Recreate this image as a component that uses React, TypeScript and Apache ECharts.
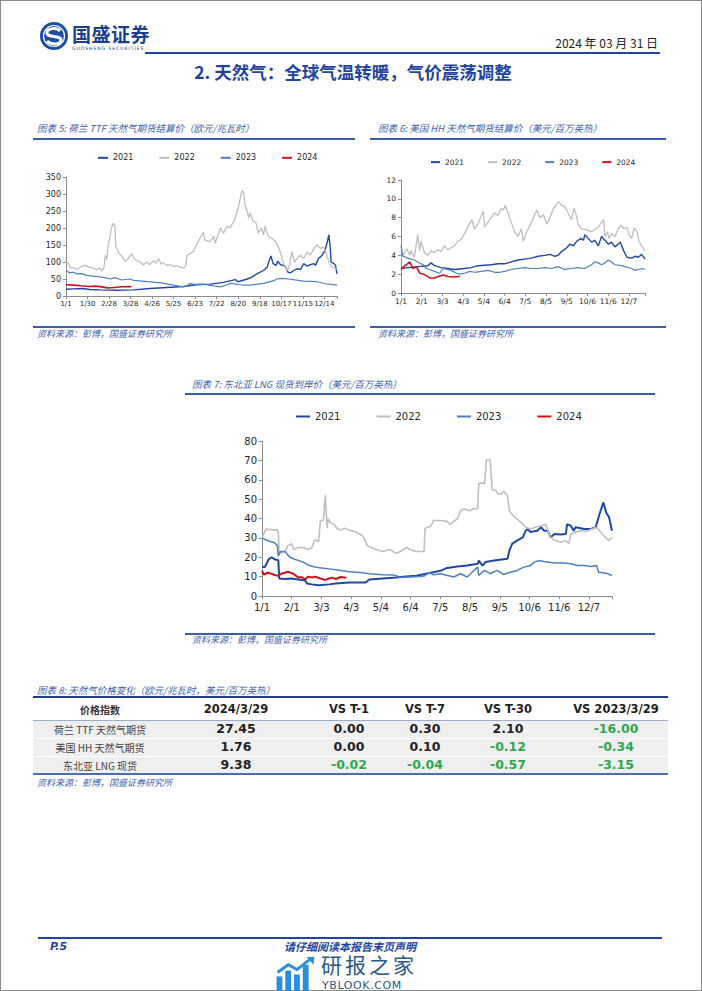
import React, { useEffect, useRef } from "react";
import * as echarts from "echarts";

const FONT = "'DejaVu Sans', Verdana, sans-serif";
const CJK = "'Noto Sans CJK SC', 'DejaVu Sans', sans-serif";
const LATIN_FIRST = "'DejaVu Sans', 'Noto Sans CJK SC', sans-serif";

const years = ["2021", "2022", "2023", "2024"];
const yearColors = ["#1f48a0", "#bfbfbf", "#4f80c2", "#d0111b"];

const ttfTicks = ["1/1", "1/30", "2/28", "3/28", "4/26", "5/25", "6/23", "7/22", "8/20", "9/18", "10/17", "11/15", "12/14"];
const monthTicks = ["1/1", "2/1", "3/3", "4/3", "5/4", "6/4", "7/5", "8/5", "9/5", "10/6", "11/6", "12/7"];

type Pt = [number, number];

// 荷兰 TTF (欧元/兆瓦时) — [day of year, value]
const ttf2021: Pt[] = [[0,20],[10,21],[23,22],[32,19],[46,18],[68,17],[91,18],[113,22],[136,25],[158,28],[176,33],[194,35],[212,40],[228,48],[232,42],[244,50],[250,55],[257,65],[266,75],[271,85],[273,100],[276,118],[279,95],[283,90],[285,102],[289,92],[293,90],[295,88],[299,70],[302,68],[307,75],[311,80],[316,78],[320,95],[325,88],[329,92],[334,95],[336,90],[340,110],[345,120],[349,135],[352,160],[354,180],[356,140],[357,100],[361,95],[363,90],[365,65]];
const ttf2022: Pt[] = [[0,99],[3,97],[6,82],[10,84],[14,77],[21,87],[26,90],[29,87],[32,84],[37,82],[41,77],[46,82],[48,74],[51,82],[53,120],[55,107],[57,152],[59,172],[62,207],[64,214],[66,202],[67,147],[71,127],[75,117],[80,102],[83,107],[86,117],[89,124],[91,112],[95,104],[100,100],[104,92],[109,100],[113,92],[118,104],[121,97],[125,110],[128,94],[131,97],[136,90],[140,92],[145,87],[149,89],[154,84],[158,82],[161,87],[163,120],[167,124],[172,132],[176,150],[181,172],[185,187],[187,165],[194,160],[199,175],[201,155],[208,200],[212,185],[217,205],[221,200],[226,220],[228,230],[232,260],[236,300],[237,310],[239,305],[241,270],[244,250],[246,230],[248,245],[252,220],[256,215],[259,185],[263,200],[266,180],[268,205],[270,190],[273,175],[277,170],[282,160],[286,145],[290,120],[293,95],[298,75],[301,90],[304,130],[308,100],[311,110],[316,120],[320,110],[325,130],[329,120],[334,140],[338,150],[343,140],[347,145],[351,120],[356,90],[361,82],[365,80]];
const ttf2023: Pt[] = [[0,75],[5,68],[10,70],[15,65],[21,66],[29,60],[40,58],[50,55],[60,50],[66,54],[75,47],[86,50],[91,46],[110,42],[130,38],[145,32],[158,27],[163,30],[167,37],[172,34],[185,35],[199,30],[208,27],[217,33],[221,37],[235,33],[248,32],[266,37],[280,45],[284,50],[290,52],[300,50],[320,44],[338,42],[350,36],[365,32]];
const ttf2024: Pt[] = [[0,33],[10,32],[20,30],[31,28],[40,29],[50,26],[56,24],[65,25],[75,27],[88,27.45]];

// 美国 HH (美元/百万英热)
const hh2021: Pt[] = [[0,2.6],[10,2.7],[25,2.8],[40,2.9],[45,3.2],[50,2.9],[60,2.7],[70,2.6],[80,2.5],[95,2.6],[105,2.7],[115,2.9],[125,2.95],[135,3.0],[145,3.1],[155,3.1],[165,3.3],[175,3.5],[185,3.6],[195,3.7],[205,3.9],[215,4.0],[223,4.1],[230,3.9],[235,4.0],[240,4.4],[248,4.8],[253,5.2],[258,5.0],[263,5.5],[269,5.8],[273,5.6],[275,6.2],[280,5.8],[285,5.4],[290,5.6],[295,5.0],[300,6.0],[305,5.6],[310,5.2],[315,5.4],[320,4.9],[325,5.2],[328,5.4],[333,4.5],[338,3.8],[345,3.7],[350,3.9],[355,3.8],[360,4.1],[365,3.6]];
const hh2022: Pt[] = [[0,3.8],[3,4.0],[9,4.7],[13,4.0],[15,4.5],[20,3.8],[25,6.2],[28,4.5],[30,5.5],[35,4.3],[40,4.0],[45,4.5],[50,4.3],[55,4.6],[60,4.4],[65,5.0],[70,4.6],[75,4.8],[80,5.0],[85,5.5],[90,5.7],[95,6.3],[100,7.0],[106,7.8],[110,6.8],[115,7.3],[123,8.7],[125,7.0],[130,7.5],[135,8.0],[140,8.5],[145,8.2],[150,9.0],[153,8.8],[156,9.3],[160,8.5],[165,7.5],[170,6.5],[175,6.0],[180,6.8],[183,5.5],[188,6.5],[195,7.5],[203,8.8],[208,8.0],[213,8.3],[218,7.3],[223,8.0],[228,9.0],[233,9.4],[236,9.7],[240,9.3],[245,9.2],[250,8.5],[255,7.8],[259,9.0],[263,8.0],[265,7.3],[270,6.8],[278,6.7],[285,6.5],[295,7.0],[300,7.5],[303,7.8],[305,6.0],[309,6.5],[311,5.8],[315,6.3],[320,6.0],[325,6.8],[329,7.2],[334,6.8],[338,7.0],[341,6.2],[345,5.8],[349,6.9],[353,6.5],[356,5.5],[360,5.0],[365,4.5]];
const hh2023: Pt[] = [[0,5.0],[3,3.9],[10,3.7],[20,3.5],[25,3.3],[33,3.0],[38,2.6],[43,2.5],[50,2.3],[58,2.1],[63,2.6],[70,2.5],[78,2.3],[83,2.1],[88,2.0],[95,2.1],[103,2.3],[110,2.2],[120,2.3],[130,2.4],[140,2.2],[148,2.2],[155,2.3],[165,2.5],[175,2.6],[185,2.7],[195,2.6],[205,2.6],[215,2.7],[225,2.6],[235,2.8],[245,2.5],[255,2.6],[265,2.7],[275,2.6],[285,3.0],[290,3.3],[295,3.2],[300,3.0],[305,3.2],[310,3.5],[315,3.3],[320,3.0],[330,2.9],[335,2.8],[345,2.6],[350,2.4],[355,2.5],[360,2.6],[365,2.5]];
const hh2024: Pt[] = [[0,2.5],[4,2.8],[8,3.0],[13,3.3],[18,2.6],[23,2.8],[28,2.1],[34,2.0],[43,1.6],[50,1.6],[58,1.8],[63,1.9],[70,1.75],[78,1.7],[88,1.76]];

// 东北亚 LNG (美元/百万英热)
const lng2021: Pt[] = [[0,15],[3,15],[7,19],[10,20],[13,19],[17,18.5],[18,9],[24,8.8],[31,9],[38,8.5],[45,8],[47,6.5],[52,6],[59,5.5],[70,6],[77,6.5],[91,7],[108,7],[112,8.5],[126,9],[140,9.5],[147,10],[161,10.5],[176,12],[186,13],[193,14.5],[204,15.2],[214,15.7],[225,16.6],[226,18.3],[230,15.7],[233,17.5],[242,18.3],[256,19.2],[258,23.5],[261,27],[266,28.6],[272,30.3],[275,33.7],[277,34.6],[280,33],[287,33.7],[291,35.5],[294,33.7],[298,33.7],[301,30.3],[305,32],[311,31.7],[317,32],[318,37],[322,36.3],[325,33.7],[327,35.5],[336,34.6],[343,34.6],[348,35.5],[352,42.3],[356,48.3],[359,43],[362,40.6],[365,33.7]];
const lng2022: Pt[] = [[0,30],[4,34.5],[16,34],[17,33],[18,22],[24,23],[27,26],[31,27],[33,24],[38,25],[43,25],[48,24],[52,25],[55,29],[59,28],[61,39],[64,39],[66,52],[68,35],[69,40],[71,38],[75,37],[78,35],[82,34],[86,35],[91,34],[98,33],[105,31],[110,26],[114,25],[119,24],[126,23],[133,24],[140,22],[144,23],[151,25],[154,24],[161,23],[169,23],[170,35],[176,36],[179,39],[186,39],[193,38.5],[196,37],[204,40],[207,44],[211,45],[216,44],[221,45],[225,45],[226,58],[230,58.5],[232,57.7],[234,70],[237,70.5],[238,70],[240,55],[244,54.6],[245,53],[249,52.5],[252,54],[254,53],[256,51.7],[258,44],[261,42],[265,40],[268,39],[272,37],[275,35.5],[280,34.6],[285,35.5],[291,36.3],[296,37],[298,33.7],[301,30.3],[306,28.6],[311,27.7],[317,28.6],[320,27],[322,32],[327,33],[332,33.7],[339,33.4],[344,34.6],[349,35.5],[353,33],[358,30.3],[362,28.6],[365,30.3]];
const lng2023: Pt[] = [[0,30],[6,28.5],[13,27.5],[16,26],[17,20.5],[19,23],[24,23],[29,20],[34,19],[40,18],[45,17],[48,16],[55,15],[62,14.5],[70,14],[77,13.5],[84,13],[91,12.5],[98,12.3],[105,12],[112,11.5],[126,11],[137,10.8],[140,10.5],[144,9.5],[154,9.8],[165,10],[170,10.5],[174,12],[179,11],[186,11.5],[200,9.8],[207,11.5],[214,9.8],[221,13.2],[225,14.9],[226,10.6],[232,13.2],[238,11.5],[245,13.2],[252,11.1],[259,12.3],[266,13.2],[273,14.9],[280,15.7],[284,17.5],[289,18.3],[294,17.8],[301,17.3],[308,17],[315,17],[322,16.6],[329,15.7],[336,15.7],[343,15.2],[349,15.7],[351,12.3],[359,11.8],[365,10.6]];
const lng2024: Pt[] = [[0,13],[2,11],[6,12],[10,11.5],[13,10.8],[17,10.5],[20,11.5],[24,12],[27,12.5],[31,11.8],[34,11],[38,9.5],[41,9.8],[45,8.5],[48,10],[52,9.5],[55,10],[61,9],[66,8.3],[70,9],[73,9.5],[77,8.8],[82,9.8],[86,9.5],[88,9.38]];

// 表格
const tableHeader = ["价格指数", "2024/3/29", "VS T-1", "VS T-7", "VS T-30", "VS 2023/3/29"];
const tableRows: [string, number, number, number, number, number][] = [
  ["荷兰 TTF 天然气期货", 27.45, 0.0, 0.3, 2.1, -16.0],
  ["美国 HH 天然气期货", 1.76, 0.0, 0.1, -0.12, -0.34],
  ["东北亚 LNG 现货", 9.38, -0.02, -0.04, -0.57, -3.15],
];

type Box = { x: number; y: number; w: number; h: number };
type Spec = {
  box: Box;
  grid: Box;
  legend: { x: number; y: number; font: number; iconW: number; gap: number };
  xTicks: string[];
  xInterval: number;
  yMax: number;
  yInterval: number;
  labelFont: number;
  xLabelFont: number;
  xMargin: number;
  series: Pt[][];
  widths: number[];
};

const specs: Spec[] = [
  {
    box: { x: 35, y: 145, w: 320, h: 180 },
    grid: { x: 66, y: 177, w: 271, h: 119 },
    legend: { x: 98, y: 159, font: 8, iconW: 10, gap: 26 },
    xTicks: ttfTicks, xInterval: 29, yMax: 350, yInterval: 50, labelFont: 8, xLabelFont: 7, xMargin: 4,
    series: [ttf2021, ttf2022, ttf2023, ttf2024],
    widths: [1.4, 1.3, 1.2, 1.6],
  },
  {
    box: { x: 370, y: 148, w: 297, h: 172 },
    grid: { x: 401, y: 180, w: 244, h: 113 },
    legend: { x: 431, y: 163, font: 7.5, iconW: 9, gap: 24 },
    xTicks: monthTicks, xInterval: 31, yMax: 12, yInterval: 2, labelFont: 7.5, xLabelFont: 7.5, xMargin: 4,
    series: [hh2021, hh2022, hh2023, hh2024],
    widths: [1.4, 1.3, 1.2, 1.6],
  },
  {
    box: { x: 185, y: 400, w: 470, h: 228 },
    grid: { x: 262, y: 441, w: 350, h: 155 },
    legend: { x: 296, y: 418, font: 10, iconW: 14, gap: 36 },
    xTicks: monthTicks, xInterval: 31, yMax: 80, yInterval: 10, labelFont: 10, xLabelFont: 10, xMargin: 6,
    series: [lng2021, lng2022, lng2023, lng2024],
    widths: [2.0, 1.6, 1.5, 2.0],
  },
];

function buildOption(s: Spec) {
  const b = s.box;
  const axisColor = "#8c8c8c";
  return {
    animation: false,
    legend: {
      data: years,
      left: s.legend.x - b.x,
      top: s.legend.y - b.y - s.legend.font * 0.65,
      icon: "rect",
      itemWidth: s.legend.iconW,
      itemHeight: 2,
      itemGap: s.legend.gap,
      padding: 0,
      selectedMode: false,
      textStyle: { fontSize: s.legend.font, color: "#262626", fontFamily: FONT },
    },
    grid: { left: s.grid.x - b.x, top: s.grid.y - b.y, width: s.grid.w, height: s.grid.h },
    xAxis: {
      type: "value",
      min: 0,
      max: 365,
      interval: s.xInterval,
      axisLine: { show: true, lineStyle: { color: axisColor, width: 1 } },
      axisTick: { show: true, length: 3, lineStyle: { color: axisColor } },
      splitLine: { show: false },
      axisLabel: {
        fontSize: s.xLabelFont,
        color: "#262626",
        fontFamily: FONT,
        margin: s.xMargin,
        formatter: (v: number) => (v % s.xInterval === 0 ? s.xTicks[v / s.xInterval] ?? "" : ""),
      },
    },
    yAxis: {
      type: "value",
      min: 0,
      max: s.yMax,
      interval: s.yInterval,
      axisLine: { show: true, lineStyle: { color: axisColor, width: 1 } },
      axisTick: { show: true, length: 3, lineStyle: { color: axisColor } },
      splitLine: { show: false },
      axisLabel: { fontSize: s.labelFont, color: "#262626", fontFamily: FONT, margin: 5 },
    },
    series: years.map((y, i) => ({
      name: y,
      type: "line",
      data: s.series[i],
      symbol: "none",
      showSymbol: false,
      lineStyle: { color: yearColors[i], width: s.widths[i] },
      itemStyle: { color: yearColors[i] },
    })),
  };
}

function LineChart({ spec }: { spec: Spec }) {
  const ref = useRef<HTMLDivElement>(null);
  useEffect(() => {
    if (!ref.current) return;
    const chart = echarts.init(ref.current, null, { renderer: "svg" });
    chart.setOption(buildOption(spec));
    return () => chart.dispose();
  }, [spec]);
  const b = spec.box;
  return <div ref={ref} style={{ position: "absolute", left: b.x, top: b.y, width: b.w, height: b.h }} />;
}

type TProps = {
  x: number; y: number; children: React.ReactNode; size?: number; color?: string; lh?: number;
  weight?: number | string; italic?: boolean; align?: "left" | "center" | "right"; font?: string; w?: number; ls?: number;
};
function T({ x, y, children, size = 10, color = "#222", lh = 1.3, weight = 400, italic = false, align = "left", font = CJK, w = 300, ls = 0 }: TProps) {
  const h = size * lh;
  const left = align === "left" ? x : align === "center" ? x - w / 2 : x - w;
  return (
    <div style={{
      position: "absolute", left, top: y - h / 2, width: w, height: h, lineHeight: h + "px",
      fontSize: size, color, fontWeight: weight as any, fontStyle: italic ? "italic" : "normal",
      fontFamily: font, textAlign: align, whiteSpace: "nowrap", letterSpacing: ls,
    }}>{children}</div>
  );
}

function HLine({ x1, x2, y, color, t }: { x1: number; x2: number; y: number; color: string; t: number }) {
  return <div style={{ position: "absolute", left: x1, top: y - t / 2, width: x2 - x1, height: t, background: color }} />;
}

const BLUE = "#1f45a0";
const CAP = "#3d62ad";

const fmt = (v: number) => v.toFixed(2);
const colCenters = [100, 236, 349, 425, 508, 616];
const rowYs = [729, 747, 765];

export default function App() {
  return (
    <div style={{ position: "absolute", left: 0, top: 0, width: 702, height: 991, background: "#fff", overflow: "hidden" }}>
      <div style={{ position: "absolute", left: 0, top: 0, width: 702, height: 991, border: "1px solid #8a8a8a", boxSizing: "border-box" }} />

      {/* header */}
      <svg style={{ position: "absolute", left: 39, top: 21 }} width={30} height={30} viewBox="-15 -15 30 30">
        <circle cx={0} cy={0} r={14} fill="#1d4fa0" />
        <circle cx={0} cy={0} r={10.5} fill="none" stroke="#fff" strokeWidth={1.2} />
        <path d="M 6 -5 C 3 -9 -7 -8 -7 -3 C -7 2 7 -1 7 4 C 7 9 -3 9 -7 5" fill="none" stroke="#fff" strokeWidth={3} />
      </svg>
      <T x={72} y={34} size={19} lh={1.1} weight={700} color="#1b3f8e" w={80} ls={0.5}>国盛证券</T>
      <T x={72} y={48.5} size={4.6} lh={1.2} color="#1b3f8e" font={FONT} w={80} ls={0.9}>GUOSHENG SECURITIES</T>
      <T x={658} y={43} size={12} align="right" color="#222" w={200}>2024 年 03 月 31 日</T>
      <HLine x1={145} x2={660} y={53} color={BLUE} t={1.6} />
      <T x={353} y={72} size={17.5} weight={700} color={BLUE} align="center" w={400}>2. 天然气：全球气温转暖，气价震荡调整</T>

      {/* chart 5 */}
      <T x={37} y={128} size={9.5} italic color={CAP}>图表 5:  荷兰 TTF 天然气期货结算价（欧元/兆瓦时）</T>
      <HLine x1={33} x2={355} y={139} color="#3a5fa8" t={1.8} />
      <HLine x1={33} x2={355} y={327} color="#3a5fa8" t={1.4} />
      <T x={37} y={334} size={9} italic color={CAP}>资料来源：彭博，国盛证券研究所</T>

      {/* chart 6 */}
      <T x={378} y={128} size={9.5} italic color={CAP}>图表 6:  美国 HH 天然气期货结算价（美元/百万英热）</T>
      <HLine x1={370} x2={666} y={139} color="#3a5fa8" t={1.8} />
      <HLine x1={370} x2={666} y={327} color="#3a5fa8" t={1.4} />
      <T x={378} y={334} size={9} italic color={CAP}>资料来源：彭博，国盛证券研究所</T>

      {/* chart 7 */}
      <T x={192} y={384} size={9.5} italic color={CAP}>图表 7:  东北亚 LNG 现货到岸价（美元/百万英热）</T>
      <HLine x1={185} x2={655} y={394} color="#3a5fa8" t={1.8} />
      <HLine x1={185} x2={655} y={634} color="#3a5fa8" t={1.4} />
      <T x={192} y={640} size={9} italic color={CAP}>资料来源：彭博，国盛证券研究所</T>

      {specs.map((s, i) => <LineChart key={i} spec={s} />)}

      {/* table */}
      <T x={37} y={690} size={9.5} italic color={CAP} w={400}>图表 8:  天然气价格变化（欧元/兆瓦时，美元/百万英热）</T>
      <div style={{ position: "absolute", left: 33, top: 720, width: 635, height: 54, background: "#efefef" }} />
      <HLine x1={33} x2={668} y={697} color="#1f3f7f" t={2} />
      <HLine x1={33} x2={668} y={720} color="#9aaed0" t={1} />
      <HLine x1={33} x2={668} y={738} color="#ffffff" t={1} />
      <HLine x1={33} x2={668} y={756} color="#ffffff" t={1} />
      <HLine x1={33} x2={668} y={774} color="#4a6fb0" t={1.5} />
      {tableHeader.map((h, i) => (
        i === 0
          ? <T key={i} x={colCenters[i]} y={709} size={10} weight={700} align="center" w={130} color="#333">{h}</T>
          : <T key={i} x={colCenters[i]} y={709} size={11.5} weight={700} align="center" w={130} font={FONT} color="#222">{h}</T>
      ))}
      {tableRows.map((r, ri) => (
        <React.Fragment key={ri}>
          <T x={colCenters[0]} y={rowYs[ri]} size={10} align="center" w={140} color="#444">{r[0]}</T>
          {r.slice(1).map((v, ci) => (
            <T key={ci} x={colCenters[ci + 1]} y={rowYs[ri]} size={12.5} weight={700} align="center" w={120} font={FONT}
               color={ci > 0 && (v as number) < 0 ? "#2ea84e" : "#222"}>
              {fmt(v as number)}
            </T>
          ))}
        </React.Fragment>
      ))}
      <T x={37} y={783} size={9} italic color={CAP}>资料来源：彭博，国盛证券研究所</T>

      {/* footer */}
      <HLine x1={38} x2={662} y={938} color={BLUE} t={1.8} />
      <T x={50} y={947} size={11} lh={1.1} weight={700} italic color={BLUE} font={FONT}>P.5</T>
      <T x={350} y={947} size={11} lh={1.0} weight={700} italic color={BLUE} align="center" w={160} font={LATIN_FIRST}>请仔细阅读本报告末页声明</T>
      <svg style={{ position: "absolute", left: 274, top: 957 }} width={42} height={34} viewBox="0 0 42 35">
        <rect x={2} y={20} width={6} height={15} fill="#2b8fd8" />
        <rect x={11} y={14} width={6} height={21} fill="#2b8fd8" />
        <rect x={20} y={18} width={6} height={17} fill="#2b8fd8" />
        <rect x={29} y={8} width={6} height={27} fill="#2b8fd8" />
        <polyline points="3,16 14,8 23,13 37,2" fill="none" stroke="#2b8fd8" strokeWidth={3} />
        <polygon points="33,0 41,0 40,8" fill="#2b8fd8" />
      </svg>
      <T x={321} y={966.3} size={21} lh={1.0} color="#2a5a8a" w={110} ls={3} font={LATIN_FIRST}>研报之家</T>
      <T x={322} y={985.5} size={11} lh={1.0} color="#2a5a8a" font={FONT} w={110} ls={0.6}>YBLOOK.COM</T>
    </div>
  );
}
